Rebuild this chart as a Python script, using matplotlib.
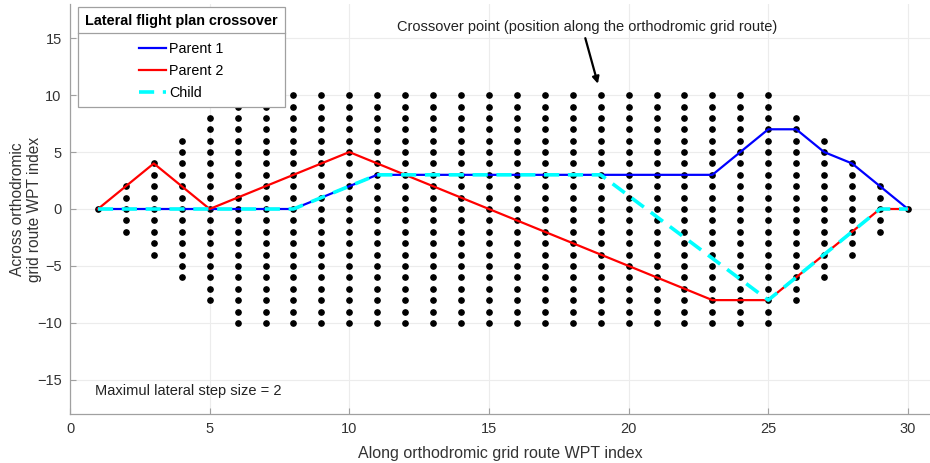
import matplotlib
matplotlib.use("Agg")
import matplotlib.pyplot as plt
from matplotlib.lines import Line2D
import numpy as np

plt.rcParams['font.family'] = ['Liberation Sans', 'DejaVu Sans']

# ---- data ----
wpt_index = list(range(1, 31))
grid_halfwidth = [0, 2, 4, 6, 8] + [10] * 20 + [8, 6, 4, 2, 0]

parent1 = [0, 0, 0, 0, 0, 0, 0, 0, 1, 2, 3, 3, 3, 3, 3, 3, 3, 3, 3, 3,
           3, 3, 3, 5, 7, 7, 5, 4, 2, 0]
parent2 = [0, 2, 4, 2, 0, 1, 2, 3, 4, 5, 4, 3, 2, 1, 0, -1, -2, -3, -4, -5,
           -6, -7, -8, -8, -8, -6, -4, -2, 0, 0]
child_x = list(range(1, 20)) + [25, 26, 27, 28, 29, 30]
child_y = [0, 0, 0, 0, 0, 0, 0, 0, 1, 2, 3, 3, 3, 3, 3, 3, 3, 3, 3,
           -8, -6, -4, -2, 0, 0]

xticks = [0, 5, 10, 15, 20, 25, 30]
yticks = [-15, -10, -5, 0, 5, 10, 15]

# ---- figure ----
fig = plt.figure(figsize=(9.30, 4.63), dpi=100)
ax = fig.add_axes([70 / 930, 49 / 463, 860 / 930, 410 / 463])

gx, gy = [], []
for x, h in zip(wpt_index, grid_halfwidth):
    for y in range(-h, h + 1):
        gx.append(x)
        gy.append(y)
ax.plot(gx, gy, 'o', color='black', markersize=3.8, linestyle='none', zorder=2)

ax.plot(wpt_index, parent1, color='#0000ff', lw=1.6, label='Parent 1', zorder=3)
ax.plot(wpt_index, parent2, color='#ff0000', lw=1.6, label='Parent 2', zorder=3)
ax.plot(child_x, child_y, color='#00ffff', lw=2.6, linestyle=(0, (4.2, 2.4)),
        label='Child', zorder=4)

ax.set_xlim(0, 860 / 27.93)
ax.set_ylim(-18, 18)
ax.set_xticks(xticks)
ax.set_yticks(yticks)
ax.set_yticklabels([str(v).replace('-', '\u2212') for v in yticks])
ax.grid(True, color='#ececec', lw=0.8, zorder=0)
ax.set_axisbelow(True)
for s in ['top', 'right']:
    ax.spines[s].set_visible(False)
for s in ['left', 'bottom']:
    ax.spines[s].set_color('#a0a0a0')
    ax.spines[s].set_linewidth(0.9)
ax.tick_params(direction='in', length=4, color='#a0a0a0', labelsize=10.5,
               labelcolor='#333333', pad=6)

ax.set_xlabel('Along orthodromic grid route WPT index', fontsize=11.5,
              color='#333333', labelpad=7)
ax.set_ylabel('Across orthodromic\ngrid route WPT index', fontsize=11.2,
              color='#333333', linespacing=1.12)
ax.yaxis.set_label_coords(-0.033, 0.5)

ax.annotate('', xy=(18.9, 11.0), xytext=(18.45, 15.0),
            arrowprops=dict(arrowstyle='-|>', color='black', lw=1.6,
                            mutation_scale=10, shrinkA=0, shrinkB=0))
ax.text(18.5, 16.0, 'Crossover point (position along the orthodromic grid route)',
        ha='center', va='center', fontsize=10.5, color='#222222')
ax.text(0.9, -16.0, 'Maximul lateral step size = 2', ha='left', va='center',
        fontsize=10.5, color='#222222')

leg = ax.legend(loc='upper left', bbox_to_anchor=(8 / 860, 407 / 410),
                borderaxespad=0, fancybox=False, edgecolor='#a0a0a0',
                framealpha=1, fontsize=10.3, title='Lateral flight plan crossover',
                title_fontproperties={'weight': 'bold', 'size': 10.4},
                alignment='center', handlelength=1.9, handletextpad=0.2,
                labelspacing=0.56, borderpad=0.5)
leg.get_frame().set_linewidth(0.9)
leg.set_zorder(10)
leg._legend_box.sep = 10.0

fig.canvas.draw()
tb = leg.get_title().get_window_extent()
fb = leg.get_frame().get_window_extent()
ysep = tb.y0 - 5
sep = Line2D([fb.x0, fb.x1], [ysep, ysep], transform=None, color='#a0a0a0',
             lw=0.9, zorder=11)
fig.add_artist(sep)

fig.savefig('out.png', dpi=100)
